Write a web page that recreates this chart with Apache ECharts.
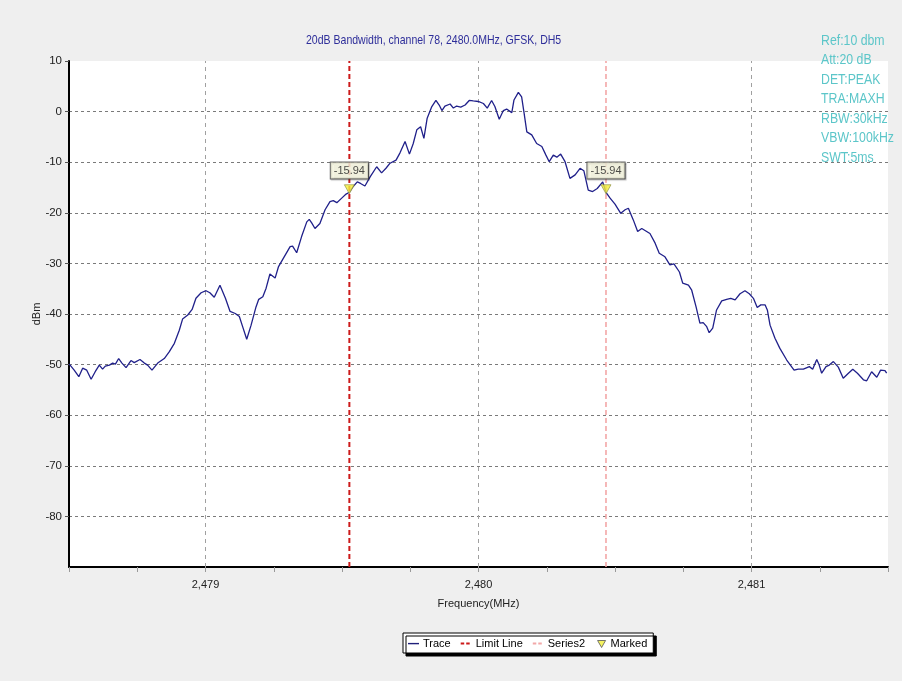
<!DOCTYPE html>
<html>
<head>
<meta charset="utf-8">
<script src="https://cdn.jsdelivr.net/npm/echarts@6/dist/echarts.min.js"></script>
<style>
html,body{margin:0;padding:0;background:#efefef;}
#chart{width:902px;height:681px;}
</style>
</head>
<body>
<div id="chart"></div>
<script>
// ---------- data ----------
const titleText = '20dB Bandwidth, channel 78, 2480.0MHz, GFSK, DH5';
const infoLines = ['Ref:10 dbm','Att:20 dB','DET:PEAK','TRA:MAXH','RBW:30kHz','VBW:100kHz','SWT:5ms'];
const xMin = 2478.5, xMax = 2481.5, xStep = 0.25;
const yMin = -90, yMax = 10, yStep = 10;
const xLabelValues = [2479, 2480, 2481];
const xLabelTexts = ['2,479', '2,480', '2,481'];
const gridFreqs = [2479, 2480, 2481];
const limitFreq = 2479.527;
const series2Freq = 2480.467;
const markedFreqs = [2479.527, 2480.467];
const markedValues = [-15.94, -15.94];

const traceFreq = [
2478.501,2478.519,2478.536,2478.550,2478.565,2478.581,2478.596,2478.611,2478.623,2478.633,
2478.648,2478.660,2478.670,2478.682,2478.694,2478.709,2478.727,2478.739,2478.760,2478.776,
2478.788,2478.804,2478.825,2478.849,2478.867,2478.886,2478.904,2478.916,2478.935,2478.951,
2478.965,2478.984,2479.002,2479.016,2479.032,2479.053,2479.073,2479.090,2479.109,2479.124,
2479.136,2479.151,2479.167,2479.185,2479.195,2479.210,2479.222,2479.236,2479.255,2479.267,
2479.285,2479.310,2479.319,2479.334,2479.352,2479.371,2479.380,2479.389,2479.401,2479.419,
2479.438,2479.456,2479.468,2479.481,2479.499,2479.515,2479.527,2479.541,2479.556,2479.568,
2479.584,2479.603,2479.627,2479.645,2479.661,2479.676,2479.698,2479.712,2479.731,2479.747,
2479.761,2479.774,2479.788,2479.800,2479.812,2479.829,2479.844,2479.856,2479.866,2479.877,
2479.896,2479.908,2479.920,2479.935,2479.951,2479.966,2479.981,2479.999,2480.018,2480.032,
2480.048,2480.060,2480.076,2480.091,2480.103,2480.122,2480.130,2480.146,2480.158,2480.167,
2480.177,2480.195,2480.213,2480.232,2480.247,2480.259,2480.274,2480.287,2480.301,2480.317,
2480.335,2480.354,2480.372,2480.386,2480.402,2480.418,2480.435,2480.455,2480.467,2480.482,
2480.500,2480.521,2480.537,2480.549,2480.567,2480.583,2480.598,2480.628,2480.647,2480.662,
2480.683,2480.701,2480.716,2480.736,2480.748,2480.769,2480.781,2480.797,2480.811,2480.823,
2480.836,2480.845,2480.858,2480.872,2480.891,2480.909,2480.924,2480.940,2480.958,2480.976,
2480.992,2481.007,2481.021,2481.034,2481.050,2481.058,2481.068,2481.086,2481.104,2481.129,
2481.156,2481.171,2481.190,2481.212,2481.224,2481.239,2481.248,2481.257,2481.273,2481.285,
2481.300,2481.318,2481.336,2481.355,2481.371,2481.388,2481.410,2481.422,2481.440,2481.459,
2481.473,2481.489,2481.495
];
const traceDbm = [
-49.9,-51.1,-52.4,-50.7,-51.1,-52.9,-51.4,-50.1,-50.9,-50.3,
-50.1,-49.7,-49.9,-48.8,-49.7,-50.6,-49.2,-49.6,-49.0,-49.7,
-50.1,-51.1,-49.7,-48.8,-47.5,-45.8,-43.2,-41.0,-40.2,-39.1,
-36.9,-35.8,-35.4,-35.8,-36.7,-34.3,-36.9,-39.5,-39.9,-40.5,
-42.5,-45.0,-42.2,-38.6,-37.1,-36.6,-34.9,-32.1,-32.9,-30.7,
-29.0,-26.7,-26.6,-27.9,-24.7,-21.8,-21.3,-22.0,-23.1,-22.1,
-19.4,-17.8,-17.6,-18.0,-17.1,-16.3,-15.94,-14.8,-13.9,-14.2,
-14.7,-12.9,-10.9,-12.1,-11.2,-10.2,-9.6,-8.2,-5.9,-8.4,
-6.3,-3.6,-3.0,-5.3,-1.3,1.0,2.2,1.3,0.2,1.1,
1.5,0.7,1.1,0.9,1.3,2.2,2.1,2.0,1.6,0.7,
2.2,1.0,-1.5,0.2,0.5,-0.2,2.3,3.8,2.9,-0.3,
-4.0,-4.6,-6.3,-6.9,-8.6,-9.9,-8.6,-9.0,-8.4,-9.9,
-13.2,-12.5,-11.2,-11.7,-15.5,-15.8,-15.2,-13.9,-15.94,-17.1,
-18.3,-20.1,-19.4,-19.1,-21.4,-23.7,-23.1,-24.1,-26.0,-28.0,
-28.7,-30.3,-30.1,-31.7,-33.9,-34.3,-35.3,-38.6,-41.8,-41.7,
-42.5,-43.7,-42.8,-39.2,-37.4,-37.1,-36.9,-37.2,-36.0,-35.4,
-36.0,-36.9,-38.7,-38.2,-38.2,-39.2,-42.2,-44.8,-46.8,-49.1,
-51.1,-50.9,-50.9,-50.4,-50.9,-49.0,-50.1,-51.7,-50.4,-50.1,
-49.4,-50.5,-52.7,-51.7,-50.9,-51.7,-53.0,-53.2,-51.4,-52.5,
-51.1,-51.2,-51.7
];

// ---------- chart ----------
const FONT = '"Liberation Sans",Arial,sans-serif';
const chart = echarts.init(document.getElementById('chart'), null, {renderer: 'canvas'});

const traceData = traceFreq.map((f, i) => [f, traceDbm[i]]);
const limitData = [[limitFreq, yMin], [limitFreq, yMax]];
const s2Data = [[series2Freq, yMin], [series2Freq, yMax]];
const markedData = markedFreqs.map((f, i) => [f, markedValues[i]]);
const triPath = 'path://M0,0 L10,0 L5,9 Z';

const iconLine = 'path://M0,0M14,8M1,3.4h11v1.4h-11z';
const iconDash = 'path://M0,0M14,8M1,3.1h3.5v2h-3.5zM6.5,3.1h3.5v2h-3.5z';
const iconTri = 'path://M0,0M14,8M3,1h8l-4,7z';

chart.setOption({
  backgroundColor: '#efefef',
  animation: false,
  graphic: [
    {
      type: 'text', x: 306, y: 33, scaleX: 0.78,
      style: {text: titleText, fill: '#2e2e9a', font: '13.5px ' + FONT, textVerticalAlign: 'top'}
    },
    {
      type: 'text', x: 821, y: 31, scaleX: 0.82,
      style: {
        text: infoLines.join('\n'),
        fill: '#5cc6c9', font: '15px ' + FONT, lineHeight: 19.5, textVerticalAlign: 'top'
      }
    }
  ],
  grid: {
    left: 69, right: 14, top: 61, bottom: 114,
    show: true, backgroundColor: '#ffffff', borderWidth: 0
  },
  legend: {
    left: 403, top: 633,
    backgroundColor: '#ffffff', borderColor: '#000', borderWidth: 1,
    shadowColor: '#000', shadowOffsetX: 3, shadowOffsetY: 3, shadowBlur: 0,
    padding: [5, 6, 4, 4], itemGap: 9, itemWidth: 14, itemHeight: 8,
    textStyle: {fontSize: 11, fontFamily: FONT, color: '#000', padding: [0, 0, 0, -3]},
    data: [
      {name: 'Trace', icon: iconLine, itemStyle: {color: '#1f1f7a'}},
      {name: 'Limit Line', icon: iconDash, itemStyle: {color: '#cc1a1a'}},
      {name: 'Series2', icon: iconDash, itemStyle: {color: '#f2a8a8'}},
      {name: 'Marked', icon: iconTri, itemStyle: {color: '#f2f03a', borderColor: '#555', borderWidth: 1}}
    ]
  },
  xAxis: {
    type: 'value', min: xMin, max: xMax, interval: xStep,
    name: 'Frequency(MHz)', nameLocation: 'middle', nameGap: 31,
    nameTextStyle: {fontSize: 11, fontFamily: FONT, color: '#222'},
    axisLine: {show: true, onZero: false, lineStyle: {color: '#000', width: 2}},
    axisTick: {show: true, inside: false, length: 5, lineStyle: {color: '#999', width: 1}},
    axisLabel: {
      margin: 12, fontSize: 11, fontFamily: FONT, color: '#222',
      formatter: v => {
        const k = xLabelValues.findIndex(x => Math.abs(x - v) < 1e-6);
        return k >= 0 ? xLabelTexts[k] : '';
      }
    },
    splitLine: {show: false}
  },
  yAxis: {
    type: 'value', min: yMin, max: yMax, interval: yStep,
    name: 'dBm', nameLocation: 'middle', nameGap: 27, nameRotate: 90,
    nameMoveOverlap: false,
    nameTextStyle: {fontSize: 11, fontFamily: FONT, color: '#222'},
    axisLine: {show: true, onZero: false, lineStyle: {color: '#000', width: 2}},
    axisTick: {show: true, inside: false, length: 4, lineStyle: {color: '#555'}},
    axisLabel: {margin: 7, fontSize: 11.5, fontFamily: FONT, color: '#222', showMinLabel: false},
    splitLine: {show: true, showMinLine: false, showMaxLine: false,
      lineStyle: {color: '#7a7a7a', type: [3, 3], width: 1}}
  },
  series: [
    {
      name: 'Trace', type: 'line', data: traceData, symbol: 'none', z: 5,
      lineStyle: {color: '#20208a', width: 1.3}, itemStyle: {color: '#20208a'},
      markLine: {
        silent: true, symbol: 'none', label: {show: false}, animation: false,
        lineStyle: {color: '#a0a0a0', type: [4, 4], width: 1},
        data: gridFreqs.map(v => ({xAxis: v}))
      }
    },
    {
      name: 'Limit Line', type: 'line', data: limitData, symbol: 'none', z: 4,
      lineStyle: {color: '#cc1a1a', width: 2, type: [5, 3]}, itemStyle: {color: '#cc1a1a'}
    },
    {
      name: 'Series2', type: 'line', data: s2Data, symbol: 'none', z: 4,
      lineStyle: {color: '#f2a0a0', width: 1.5, type: [5, 3]}, itemStyle: {color: '#f2a0a0'}
    },
    {
      name: 'Marked', type: 'scatter', data: markedData, z: 10,
      symbol: triPath, symbolSize: [10, 9], symbolOffset: [0, -3],
      itemStyle: {color: '#f2f03a', borderColor: '#8a8a40', borderWidth: 0.8},
      label: {
        show: true, position: 'top', distance: 6,
        formatter: p => p.value[1].toFixed(2),
        fontSize: 11, fontFamily: FONT, color: '#222',
        backgroundColor: '#fbfbe4', borderColor: '#444', borderWidth: 1,
        padding: [3, 3, 2, 3],
        shadowColor: 'rgba(0,0,0,0.3)', shadowOffsetX: 1, shadowOffsetY: 1, shadowBlur: 1
      }
    }
  ]
});
</script>
</body>
</html>
